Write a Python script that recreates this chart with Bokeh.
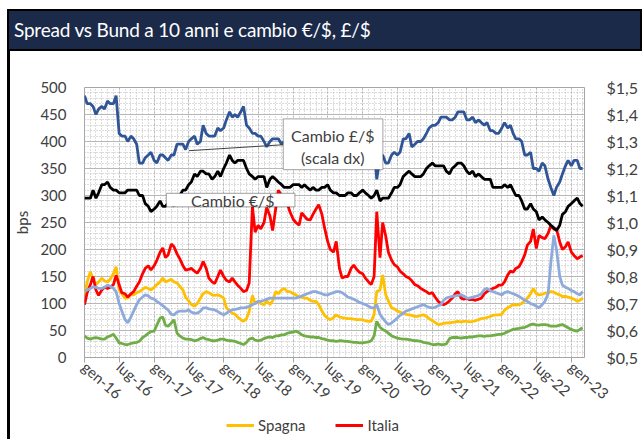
import pandas as pd
from bokeh.plotting import figure
from bokeh.models import (Range1d, LinearAxis, FixedTicker, CustomJSTickFormatter, Legend,
                          LegendItem, BoxAnnotation, Label, Arrow, Div, ColumnDataSource)
from bokeh.layouts import column, row
from bokeh.embed import file_html
from bokeh.resources import INLINE

TITLE = "Spread vs Bund a 10 anni e cambio €/$, £/$"

# semi-monthly observations (1st and 15th of each month), Jan 2016 - Mar 2023
DATES = pd.date_range("2016-01-01", "2023-03-01", freq="SMS")

ITALIA = [
    98, 120, 135, 150, 125, 115, 125, 130, 128, 130, 135, 152, 135, 120, 118, 112, 118, 122, 132, 140, 155, 165, 170, 162,
    170, 180, 195, 203, 185, 190, 210, 205, 192, 183, 170, 162, 163, 165, 160, 156, 165, 178, 165, 147, 140, 137, 150, 162,
    150, 143, 140, 147, 140, 134, 128, 122, 124, 138, 280, 232, 245, 238, 250, 278, 262, 235, 275, 310, 300, 295, 285, 270,
    256, 250, 245, 268, 262, 256, 255, 265, 275, 283, 265, 240, 215, 200, 195, 215, 165, 147, 150, 150, 165, 171, 163, 158,
    155, 147, 140, 135, 150, 270, 185, 250, 225, 195, 180, 172, 168, 160, 155, 150, 147, 142, 135, 133, 128, 125, 122, 118,
    120, 112, 104, 100, 98, 100, 105, 110, 118, 122, 110, 108, 110, 107, 107, 106, 108, 110, 118, 122, 125, 128, 130, 134,
    134, 140, 153, 160, 158, 165, 168, 177, 190, 208, 215, 238, 202, 226, 222, 220, 230, 244, 238, 238, 214, 200, 205, 214,
    195, 189, 183, 186, 189]

SPAGNA = [
    116, 140, 159, 145, 135, 140, 147, 142, 140, 145, 155, 168, 125, 118, 110, 110, 116, 116, 120, 122, 126, 130, 128, 125,
    130, 135, 140, 147, 140, 142, 145, 140, 138, 132, 125, 112, 105, 98, 95, 100, 110, 118, 122, 120, 116, 115, 116, 114,
    110, 92, 86, 82, 80, 75, 70, 67, 72, 85, 115, 100, 104, 100, 98, 105, 98, 105, 122, 118, 125, 128, 122, 122,
    118, 116, 112, 112, 110, 110, 106, 104, 104, 98, 86, 78, 73, 70, 74, 79, 75, 74, 73, 72, 72, 71, 70, 70,
    70, 68, 67, 67, 80, 122, 125, 153, 116, 105, 92, 90, 86, 84, 82, 80, 79, 78, 76, 76, 78, 79, 76, 72,
    68, 65, 61, 62, 63, 64, 64, 65, 66, 67, 66, 67, 67, 66, 67, 68, 70, 72, 73, 74, 76, 78, 79, 79,
    80, 88, 92, 95, 98, 97, 98, 100, 105, 110, 118, 128, 118, 116, 117, 119, 120, 122, 121, 118, 116, 113, 113, 112,
    110, 108, 104, 106, 110]

REGNO_UNITO = [
    122, 125, 128, 131, 130, 128, 128, 130, 134, 132, 128, 122, 100, 86, 70, 64, 75, 86, 98, 107, 112, 116, 114, 110,
    108, 104, 100, 96, 92, 88, 80, 79, 84, 86, 86, 86, 88, 84, 82, 82, 86, 92, 92, 90, 89, 88, 85, 82,
    79, 82, 86, 88, 89, 90, 92, 92, 93, 95, 98, 100, 104, 104, 106, 108, 110, 110, 110, 110, 110, 110, 110, 110,
    110, 110, 112, 114, 116, 118, 120, 122, 122, 120, 118, 116, 116, 118, 120, 122, 122, 120, 116, 112, 110, 108, 105, 102,
    100, 98, 95, 92, 92, 98, 80, 73, 66, 61, 64, 68, 73, 78, 82, 86, 88, 90, 92, 94, 96, 98, 95, 93,
    92, 93, 96, 98, 106, 110, 112, 113, 114, 115, 116, 114, 110, 110, 112, 113, 115, 118, 126, 128, 124, 122, 120, 118,
    116, 120, 122, 120, 118, 116, 113, 110, 106, 104, 100, 98, 95, 92, 98, 104, 118, 175, 226, 200, 150, 134, 130, 128,
    124, 122, 118, 116, 122]

FRANCIA = [
    40, 36, 34, 36, 37, 36, 34, 34, 38, 40, 43, 36, 27, 26, 24, 24, 26, 27, 28, 30, 37, 40, 45, 48,
    49, 60, 73, 75, 60, 58, 64, 70, 45, 40, 36, 34, 34, 33, 31, 32, 35, 37, 34, 33, 31, 31, 32, 34,
    34, 32, 31, 31, 30, 28, 26, 24, 28, 34, 36, 32, 31, 32, 35, 37, 38, 37, 40, 40, 42, 42, 45, 46,
    47, 49, 46, 42, 40, 39, 38, 38, 37, 37, 35, 34, 32, 31, 31, 30, 31, 31, 30, 30, 29, 28, 28, 27,
    27, 28, 29, 31, 40, 67, 56, 52, 49, 45, 40, 38, 36, 35, 34, 34, 33, 32, 31, 31, 30, 28, 27, 26,
    24, 24, 25, 24, 24, 25, 35, 37, 37, 37, 36, 37, 37, 38, 38, 39, 40, 40, 39, 40, 40, 41, 42, 43,
    43, 45, 48, 50, 52, 53, 54, 55, 56, 58, 61, 62, 60, 60, 61, 61, 60, 58, 58, 58, 60, 61, 58, 55,
    52, 50, 49, 52, 55]

CAMBIO_GBP = [
    1.47, 1.44, 1.44, 1.43, 1.40, 1.42, 1.43, 1.42, 1.45, 1.44, 1.44, 1.47, 1.33, 1.32, 1.32, 1.30, 1.32, 1.31, 1.29, 1.22, 1.22, 1.24, 1.25, 1.26,
    1.23, 1.22, 1.25, 1.25, 1.24, 1.23, 1.25, 1.25, 1.29, 1.29, 1.29, 1.27, 1.30, 1.31, 1.32, 1.29, 1.30, 1.36, 1.33, 1.32, 1.32, 1.32, 1.35, 1.34,
    1.35, 1.38, 1.41, 1.39, 1.40, 1.39, 1.41, 1.43, 1.36, 1.35, 1.33, 1.33, 1.32, 1.32, 1.30, 1.28, 1.30, 1.31, 1.31, 1.31, 1.29, 1.30, 1.28, 1.26,
    1.27, 1.29, 1.31, 1.29, 1.31, 1.31, 1.31, 1.31, 1.31, 1.28, 1.27, 1.26, 1.26, 1.25, 1.21, 1.21, 1.22, 1.25, 1.23, 1.26, 1.29, 1.29, 1.29, 1.31,
    1.32, 1.30, 1.32, 1.29, 1.28, 1.16, 1.24, 1.25, 1.22, 1.22, 1.25, 1.26, 1.25, 1.26, 1.31, 1.31, 1.33, 1.28, 1.29, 1.30, 1.30, 1.31, 1.33, 1.35,
    1.36, 1.36, 1.37, 1.39, 1.39, 1.39, 1.38, 1.38, 1.39, 1.41, 1.41, 1.41, 1.38, 1.38, 1.39, 1.37, 1.38, 1.37, 1.36, 1.37, 1.34, 1.34, 1.33, 1.33,
    1.35, 1.37, 1.35, 1.36, 1.33, 1.31, 1.31, 1.30, 1.25, 1.25, 1.26, 1.20, 1.20, 1.19, 1.22, 1.21, 1.16, 1.13, 1.10, 1.13, 1.15, 1.18, 1.21, 1.23,
    1.21, 1.23, 1.23, 1.20, 1.20]

CAMBIO_EUR = [
    1.09, 1.09, 1.09, 1.12, 1.09, 1.11, 1.14, 1.14, 1.15, 1.13, 1.12, 1.12, 1.11, 1.11, 1.11, 1.12, 1.12, 1.12, 1.12, 1.10, 1.10, 1.07, 1.06, 1.04,
    1.05, 1.06, 1.08, 1.06, 1.06, 1.07, 1.07, 1.06, 1.09, 1.10, 1.12, 1.12, 1.14, 1.15, 1.18, 1.17, 1.19, 1.19, 1.18, 1.18, 1.16, 1.17, 1.19, 1.17,
    1.20, 1.22, 1.25, 1.23, 1.22, 1.23, 1.23, 1.23, 1.20, 1.18, 1.17, 1.16, 1.17, 1.17, 1.17, 1.13, 1.16, 1.17, 1.16, 1.15, 1.14, 1.13, 1.13, 1.13,
    1.14, 1.14, 1.14, 1.13, 1.14, 1.13, 1.12, 1.13, 1.12, 1.12, 1.13, 1.13, 1.14, 1.12, 1.11, 1.11, 1.10, 1.10, 1.10, 1.11, 1.11, 1.10, 1.10, 1.11,
    1.12, 1.11, 1.10, 1.09, 1.10, 1.12, 1.08, 1.09, 1.09, 1.09, 1.11, 1.13, 1.13, 1.14, 1.17, 1.18, 1.19, 1.18, 1.17, 1.17, 1.17, 1.18, 1.20, 1.21,
    1.22, 1.21, 1.21, 1.21, 1.21, 1.19, 1.18, 1.20, 1.21, 1.22, 1.22, 1.21, 1.19, 1.18, 1.19, 1.17, 1.18, 1.17, 1.16, 1.16, 1.16, 1.13, 1.13, 1.13,
    1.13, 1.14, 1.13, 1.14, 1.12, 1.10, 1.10, 1.08, 1.05, 1.05, 1.07, 1.05, 1.04, 1.01, 1.02, 1.01, 1.00, 0.99, 0.98, 0.97, 0.99, 1.03, 1.04, 1.06,
    1.07, 1.08, 1.09, 1.07, 1.06]

X_TICK_LABELS = ["gen-16", "lug-16", "gen-17", "lug-17", "gen-18", "lug-18", "gen-19", "lug-19",
                 "gen-20", "lug-20", "gen-21", "lug-21", "gen-22", "lug-22", "gen-23"]
X_TICK_DATES = pd.date_range("2016-01-01", "2023-01-01", freq="6MS")
X_MINOR_DATES = pd.date_range("2016-01-01", "2023-03-01", freq="MS")
Y_TICKS = [0, 50, 100, 150, 200, 250, 300, 350, 400, 450, 500]
Y_MINOR = list(range(0, 501, 10))
FX_TICKS = [0.5, 0.6, 0.7, 0.8, 0.9, 1.0, 1.1, 1.2, 1.3, 1.4, 1.5]
FX_TICK_LABELS = ["$0,5", "$0,6", "$0,7", "$0,8", "$0,9", "$1,0", "$1,1", "$1,2", "$1,3", "$1,4", "$1,5"]
LEGEND_LABELS = ["Spagna", "Italia"]


def ms(d):
    return pd.Timestamp(d).value // 10**6


FONT = "Lato"
TXT = "#404040"
GRID = "#b8b8b8"
C_SPA, C_ITA, C_UK, C_FRA, C_EUR, C_GBP = "#ffc000", "#ff0000", "#8eaadb", "#70ad47", "black", "#2f5597"

LOOKUP = """
    let best = -1, bd = Infinity;
    for (let i = 0; i < pos.length; i++) { const d = Math.abs(pos[i] - tick); if (d < bd) { bd = d; best = i; } }
    return bd < tol ? names[best] : "";
"""

src = ColumnDataSource(dict(date=DATES, ita=ITALIA, spa=SPAGNA, uk=REGNO_UNITO, fra=FRANCIA,
                            gbp=CAMBIO_GBP, eur=CAMBIO_EUR))

# page geometry: layout starts at (7, 9); plot frame spans x 78..584, y 87..360
p = figure(width=632, height=360, x_axis_type="datetime", output_backend="svg", toolbar_location=None,
           x_range=Range1d(pd.Timestamp("2016-01-01"), pd.Timestamp("2023-03-11")),
           y_range=Range1d(0, 500),
           min_border_left=68, min_border_right=58, min_border_top=36, min_border_bottom=51,
           background_fill_color="white", border_fill_color="white",
           outline_line_color="#a6a6a6", margin=0)
p.extra_y_ranges = {"fx": Range1d(0.5, 1.5)}

x_ticks_ms = [ms(d) for d in X_TICK_DATES]
x_minor_ms = [ms(d) for d in X_MINOR_DATES]

p.xaxis.ticker = FixedTicker(ticks=x_ticks_ms, minor_ticks=x_minor_ms)
p.xaxis.formatter = CustomJSTickFormatter(args=dict(pos=x_ticks_ms, names=X_TICK_LABELS, tol=86400000),
                                          code=LOOKUP)
p.xaxis.major_label_orientation = -0.72
p.xaxis.axis_line_color = "#a6a6a6"
p.xaxis.major_tick_line_color = "#a6a6a6"
p.xaxis.major_tick_out = 5
p.xaxis.major_tick_in = 0
p.xaxis.minor_tick_line_color = None
p.xaxis.major_label_text_font = FONT
p.xaxis.major_label_text_font_size = "15px"
p.xaxis.major_label_text_color = TXT
p.xaxis.major_label_standoff = 2

p.yaxis.ticker = FixedTicker(ticks=Y_TICKS)
p.yaxis.axis_line_color = None
p.yaxis.major_tick_line_color = None
p.yaxis.minor_tick_line_color = None
p.yaxis.major_label_standoff = 12
p.yaxis.major_label_text_font = FONT
p.yaxis.major_label_text_font_size = "15px"
p.yaxis.major_label_text_color = TXT
p.yaxis.axis_label = "bps"
p.yaxis.axis_label_standoff = 6
p.yaxis.axis_label_text_font = FONT
p.yaxis.axis_label_text_font_style = "normal"
p.yaxis.axis_label_text_font_size = "15px"
p.yaxis.axis_label_text_color = TXT

right = LinearAxis(y_range_name="fx", ticker=FixedTicker(ticks=FX_TICKS),
                   formatter=CustomJSTickFormatter(args=dict(pos=FX_TICKS, names=FX_TICK_LABELS, tol=0.001),
                                                   code=LOOKUP),
                   axis_line_color=None, major_tick_line_color=None, minor_tick_line_color=None,
                   major_label_standoff=16, major_label_text_font=FONT,
                   major_label_text_font_size="16px", major_label_text_color=TXT)
p.add_layout(right, "right")

p.ygrid.ticker = FixedTicker(ticks=Y_TICKS, minor_ticks=Y_MINOR)
p.ygrid.grid_line_color = GRID
p.ygrid.minor_grid_line_color = GRID
p.ygrid.minor_grid_line_dash = "1 2"
p.xgrid.ticker = FixedTicker(ticks=x_ticks_ms, minor_ticks=x_minor_ms)
p.xgrid.grid_line_color = GRID
p.xgrid.grid_line_dash = "2 2"
p.xgrid.minor_grid_line_color = GRID
p.xgrid.minor_grid_line_dash = "1 2"

LW = 2.8
p.line("date", "fra", source=src, line_color=C_FRA, line_width=LW)
p.line("date", "spa", source=src, line_color=C_SPA, line_width=LW)
p.line("date", "ita", source=src, line_color=C_ITA, line_width=LW)
p.line("date", "uk", source=src, line_color=C_UK, line_width=LW)
p.line("date", "eur", source=src, line_color=C_EUR, line_width=LW, y_range_name="fx")
p.line("date", "gbp", source=src, line_color=C_GBP, line_width=LW, y_range_name="fx")

# annotation boxes
p.add_layout(Arrow(end=None, x_start=ms("2017-07-03"), y_start=383, x_end=ms("2018-11-10"), y_end=394,
                   line_color="#404040", line_width=1))
p.add_layout(BoxAnnotation(left=ms("2018-11-10"), right=ms("2020-04-16"), bottom=348, top=442,
                           fill_color="white", fill_alpha=1, line_color="black", line_width=1.2))
p.add_layout(Label(x=ms("2019-07-28"), y=412, text="Cambio £/$", text_align="center", text_baseline="middle",
                   text_font=FONT, text_font_size="16px", text_color=TXT))
p.add_layout(Label(x=ms("2019-07-28"), y=370, text="(scala dx)", text_align="center", text_baseline="middle",
                   text_font=FONT, text_font_size="16px", text_color=TXT))
p.add_layout(BoxAnnotation(left=ms("2017-03-06"), right=ms("2019-01-10"), bottom=279, top=304,
                           fill_color="white", fill_alpha=1, line_color="black", line_width=1.2))
p.add_layout(Label(x=ms("2018-02-18"), y=290, text="Cambio €/$", text_align="center", text_baseline="middle",
                   text_font=FONT, text_font_size="16px", text_color=TXT))

# legend strip below the chart (its lines fall outside the strip's 0..1 ranges, only the legend shows)
pl = figure(width=632, height=28, output_backend="svg", toolbar_location=None,
            x_range=Range1d(0, 1), y_range=Range1d(0, 1), min_border=0,
            x_axis_location=None, y_axis_location=None, outline_line_color=None,
            background_fill_color="white", border_fill_color="white", margin=0)
pl.grid.visible = False
d_spa = pl.line("date", "spa", source=src, line_color=C_SPA, line_width=3)
d_ita = pl.line("date", "ita", source=src, line_color=C_ITA, line_width=3)
legend = Legend(items=[LegendItem(label=LEGEND_LABELS[0], renderers=[d_spa]),
                       LegendItem(label=LEGEND_LABELS[1], renderers=[d_ita])],
                orientation="horizontal", location=(216, 5), border_line_color=None,
                background_fill_alpha=0, label_text_font=FONT, label_text_font_size="15px",
                label_text_color=TXT, glyph_width=28, glyph_height=14, spacing=30,
                padding=1, margin=0, label_standoff=4, label_height=14)
pl.add_layout(legend, "center")

title = Div(text=TITLE, width=635, height=42, margin=0, styles={
    "background-color": "#1c2a4a", "color": "white", "font-family": "Lato, sans-serif",
    "font-size": "19px", "letter-spacing": "-0.2px", "line-height": "42px", "padding-left": "7px",
    "box-shadow": "inset 0 0 0 2px black", "box-sizing": "border-box", "white-space": "nowrap"})

bar1 = Div(width=3, height=360, margin=0, styles={"background-color": "black"})
bar2 = Div(width=3, height=28, margin=0, styles={"background-color": "black"})

layout = column(title, row(bar1, p, spacing=0, margin=0), row(bar2, pl, spacing=0, margin=0),
                spacing=0, margin=(9, 0, 0, 7))

open("out.html", "w").write(file_html(layout, INLINE))
